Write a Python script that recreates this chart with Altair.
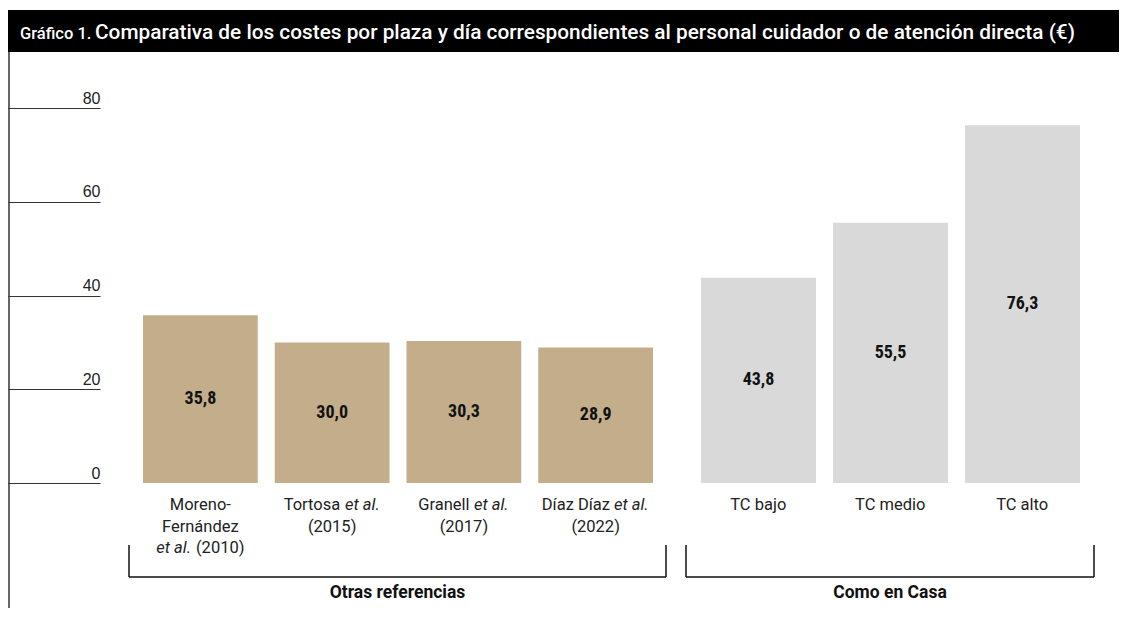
import altair as alt
import pandas as pd

# ---------------- data ----------------
title_prefix = "Gráfico 1."
title_main = "Comparativa de los costes por plaza y día correspondientes al personal cuidador o de atención directa (€)"

group_names = ["Otras referencias", "Como en Casa"]

otras_cats = ["Moreno-Fernández et al. (2010)", "Tortosa et al. (2015)",
              "Granell et al. (2017)", "Díaz Díaz et al. (2022)"]
otras_values = [35.8, 30.0, 30.3, 28.9]
# '*' marks italic segments
otras_lines = [["Moreno-", "Fernández", "*et al.* (2010)"],
               ["Tortosa *et al.*", "(2015)"],
               ["Granell *et al.*", "(2017)"],
               ["Díaz Díaz *et al.*", "(2022)"]]

como_cats = ["TC bajo", "TC medio", "TC alto"]
como_values = [43.8, 55.5, 76.3]
como_lines = [["TC bajo"], ["TC medio"], ["TC alto"]]

y_ticks = [0, 20, 40, 60, 80]

# ---------------- layout ----------------
W, H = 1111, 600
FS = 16.5        # category label font size
LH = 21.5        # line height
LABEL_Y = 497

ROBOTO = {" ": .248, "a": .544, "b": .561, "c": .523, "d": .564, "e": .530, "f": .347,
          "g": .561, "h": .551, "i": .243, "j": .239, "k": .507, "l": .243, "m": .876,
          "n": .552, "o": .570, "p": .561, "q": .568, "r": .338, "s": .515, "t": .327,
          "u": .551, "v": .484, "w": .751, "x": .496, "y": .473, "z": .496, "á": .544,
          "í": .243, "T": .610, "M": .873, "F": .553, "G": .682, "D": .656, "C": .652,
          "(": .342, ")": .348, ".": .263, "-": .276, ",": .196}


def text_width(s, size):
    return sum(ROBOTO.get(ch, 0.562) for ch in s) * size


yscale = alt.Scale(domain=[0, 80], range=[475, 100], nice=False)
yaxis = alt.Axis(values=y_ticks, orient="left", offset=-92, tickSize=92,
                 labelPadding=-92, labelAlign="right", labelBaseline="alphabetic",
                 labelOffset=-5, domain=False, grid=False, title=None,
                 tickColor="#333333", tickWidth=1, labelFont="Liberation Sans",
                 labelFontSize=16, labelColor="#222222")


def group_layer(cats, values, lines, color, rng):
    df = pd.DataFrame({"cat": cats, "value": values})
    xenc = alt.X("cat:N", scale=alt.Scale(domain=cats, range=rng, paddingInner=0.129,
                                          paddingOuter=0), axis=None)
    bars = alt.Chart(df).mark_bar(color=color).encode(
        x=xenc, y=alt.Y("value:Q", scale=yscale, axis=yaxis))
    vals = alt.Chart(df).transform_calculate(
        mid="datum.value / 2",
        lab="replace(format(datum.value, '.1f'), '.', ',')"
    ).mark_text(font="Liberation Sans Narrow, Roboto Condensed, DejaVu Sans Condensed, sans-serif",
                fontWeight="bold", fontSize=18, color="#111111", baseline="middle").encode(
        x=xenc, y=alt.Y("mid:Q", scale=yscale, axis=yaxis), text="lab:N")
    segs = []
    for cat, cat_lines in zip(cats, lines):
        for li, line in enumerate(cat_lines):
            parts = line.split("*")
            pieces = [(p, i % 2 == 1) for i, p in enumerate(parts) if p]
            total = sum(text_width(p, FS) for p, _ in pieces)
            cursor = -total / 2
            for p, it in pieces:
                lead = len(p) - len(p.lstrip(" "))
                cursor += text_width(" " * lead, FS)
                body = p.strip(" ")
                segs.append(
                    alt.Chart(pd.DataFrame({"cat": [cat], "t": [body]})).mark_text(
                        align="left", baseline="middle", dx=cursor, dy=li * LH,
                        font="Roboto", fontSize=FS,
                        fontStyle="italic" if it else "normal", color="#222222"
                    ).encode(x=xenc, y=alt.value(LABEL_Y), text="t:N"))
                cursor += text_width(p.lstrip(" "), FS)
    return alt.layer(bars, vals, *segs)


one = pd.DataFrame({"k": [0]})

title_bar = alt.Chart(one).mark_rect(color="#000000").encode(
    x=alt.value(0), x2=alt.value(W), y=alt.value(2), y2=alt.value(44))
title1 = alt.Chart(pd.DataFrame({"t": [title_prefix]})).mark_text(
    align="left", baseline="alphabetic", font="Roboto", fontSize=16.5, fontWeight=500,
    color="#ffffff").encode(x=alt.value(12), y=alt.value(31), text="t:N")
title2 = alt.Chart(pd.DataFrame({"t": [title_main]})).mark_text(
    align="left", baseline="alphabetic", font="Roboto", fontSize=20.8, fontWeight=500,
    color="#ffffff").encode(x=alt.value(87), y=alt.value(31), text="t:N")

vline = alt.Chart(one).mark_rule(color="#333333", strokeWidth=1.5).encode(
    x=alt.value(1), y=alt.value(44), y2=alt.value(H))

left = group_layer(otras_cats, otras_values, otras_lines, "#c3ad8b", [135, 645])
right = group_layer(como_cats, como_values, como_lines, "#d9d9d9", [693, 1072])


def bracket(x0, x1, name):
    d = pd.DataFrame({"g": [name]})
    rules = [
        alt.Chart(d).mark_rule(color="#111111", strokeWidth=1.5).encode(
            x=alt.value(x0), y=alt.value(537), y2=alt.value(569)),
        alt.Chart(d).mark_rule(color="#111111", strokeWidth=1.5).encode(
            x=alt.value(x1), y=alt.value(537), y2=alt.value(569)),
        alt.Chart(d).mark_rule(color="#111111", strokeWidth=1.5).encode(
            x=alt.value(x0), x2=alt.value(x1), y=alt.value(569)),
        alt.Chart(d).mark_text(font="Roboto", fontSize=17.5, fontWeight="bold",
                               color="#111111", baseline="middle").encode(
            x=alt.value((x0 + x1) / 2), y=alt.value(585), text="g:N"),
    ]
    return rules


layers = [title_bar, title1, title2, vline, left, right]
layers += bracket(121, 658, group_names[0])
layers += bracket(678, 1086, group_names[1])

chart = alt.layer(*layers).resolve_scale(x="independent").properties(
    width=W, height=H, padding=0, autosize=alt.AutoSizeParams(type="none")
).configure_view(stroke=None)

chart.save("out.html", embed_options={"renderer": "svg", "actions": False})
